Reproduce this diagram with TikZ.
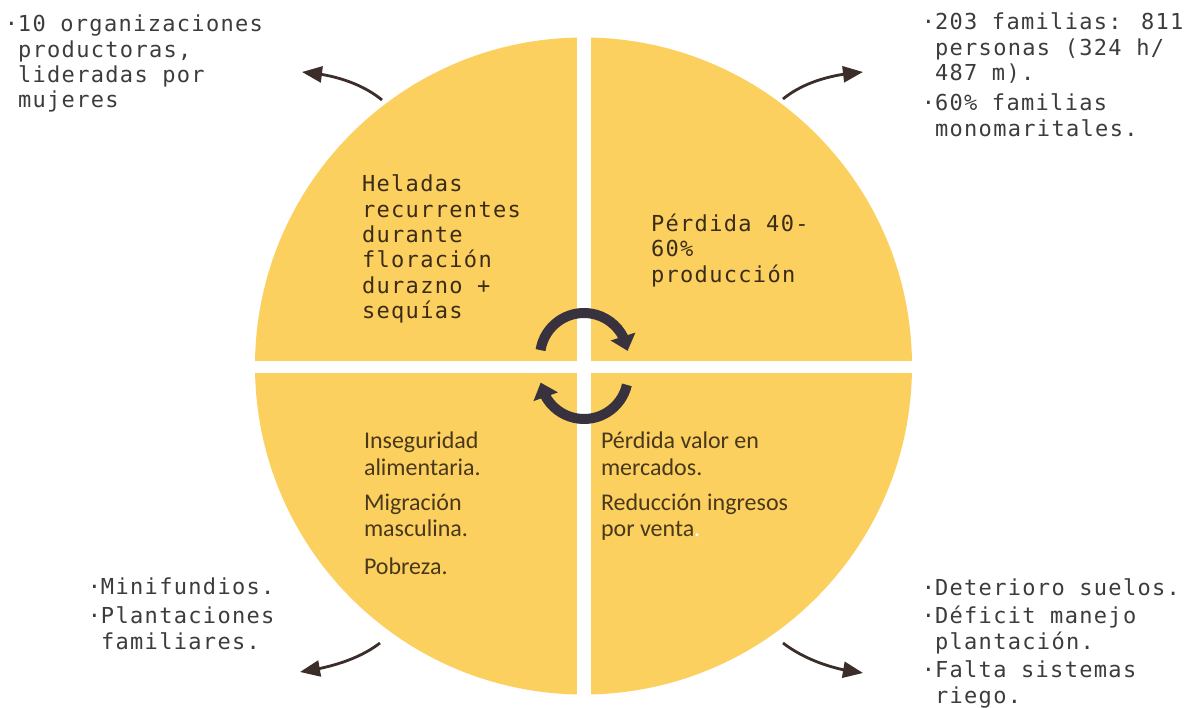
\documentclass[tikz,border=0pt]{standalone}
\usepackage{fontspec}
\newfontfamily\monof[LetterSpace=6.0]{DejaVu Sans Mono}
\newfontfamily\calf{Carlito}
\usetikzlibrary{arrows.meta,bending}
\definecolor{qyellow}{RGB}{252,208,94}
\definecolor{arrowdark}{RGB}{59,45,41}
\definecolor{cycledark}{RGB}{56,50,62}
\definecolor{outtext}{RGB}{60,60,60}
\definecolor{intext}{RGB}{58,44,24}
\definecolor{lowtext}{RGB}{72,56,28}
\newcommand{\bul}{\llap{·}}
\begin{document}
\begin{tikzpicture}[x=1pt,y=1pt,
  outtxt/.style={anchor=base west, inner sep=0, outer sep=0, text=outtext, font=\monof\fontsize{22}{25.3}\selectfont},
  outtxtlow/.style={outtxt, font=\monof\fontsize{22}{26}\selectfont},
  quadtxt/.style={anchor=base west, inner sep=0, outer sep=0, text=intext, font=\monof\fontsize{22}{25.3}\selectfont},
  lowtxt/.style={anchor=base west, inner sep=0, outer sep=0, text=lowtext, font=\calf\fontsize{24}{26.5}\selectfont},
  outarrow/.style={draw=arrowdark, line width=2.8pt, -{Triangle[length=20pt,width=16pt]}},
  cyclearrow/.style={draw=cycledark, line width=10pt, -{Triangle[length=15pt,width=25pt,flex]}}
]
\useasboundingbox (0,0) rectangle (1197,708);
% circle and white cross
\fill[qyellow] (583.5,342) circle[radius=328.5];
\fill[white] (577,10) rectangle (591,698);
\fill[white] (250,335) rectangle (918,347);
% cycle arrows
\coordinate (ctop) at (584,351);
\coordinate (cbot) at (584,333);
\draw[cyclearrow] ([shift={(171:44)}]ctop) arc[start angle=171,end angle=8,radius=44];
\draw[cyclearrow] ([shift={(-13:44)}]cbot) arc[start angle=-13,end angle=-170,radius=44];
% quadrant texts
\node[quadtxt] (q1) at (362,516) {\begin{tabular}[t]{@{}l@{}}Heladas\\ recurrentes\\ durante\\ floración\\ durazno +\\ sequías\end{tabular}};
\node[quadtxt] (q2) at (651,476.5) {\begin{tabular}[t]{@{}l@{}}Pérdida 40-\\ 60\%\\ producción\end{tabular}};
\node[lowtxt] (q3) at (364,259) {\begin{tabular}[t]{@{}l@{}}Inseguridad\\ alimentaria.\\[8.5pt] Migración\\ masculina.\\[11pt] Pobreza.\end{tabular}};
\node[lowtxt] (q4) at (601,259) {\begin{tabular}[t]{@{}l@{}}Pérdida valor en\\ mercados.\\[8.5pt] Reducción ingresos\\ por venta{\color{white}.}\end{tabular}};
% outer texts
\node[outtxt] (o1) at (18,676) {\begin{tabular}[t]{@{}l@{}}\bul 10 organizaciones\\ productoras,\\ lideradas por\\ mujeres\end{tabular}};
\node[outtxt] (o2) at (935,678) {\begin{tabular}[t]{@{}l@{}}\bul 203 familias: 811\\ personas (324 h/\\ 487 m).\\[5pt] \bul 60\% familias\\ monomaritales.\end{tabular}};
\node[outtxtlow] (o3) at (101,113) {\begin{tabular}[t]{@{}l@{}}\bul Minifundios.\\[3pt] \bul Plantaciones\\ familiares.\end{tabular}};
\node[outtxtlow] (o4) at (935,112) {\begin{tabular}[t]{@{}l@{}}\bul Deterioro suelos.\\[2pt] \bul Déficit manejo\\ plantación.\\[2pt] \bul Falta sistemas\\ riego.\end{tabular}};
% outer arrows
\coordinate (a1s) at (382,608); \coordinate (a1e) at (302,636);
\coordinate (a2s) at (783,609); \coordinate (a2e) at (863,636);
\coordinate (a3s) at (380,65);  \coordinate (a3e) at (300,36);
\coordinate (a4s) at (783,65);  \coordinate (a4e) at (863,35);
\draw[outarrow] (a1s) .. controls (360,626) and (330,634) .. (a1e);
\draw[outarrow] (a2s) .. controls (805,627) and (835,634) .. (a2e);
\draw[outarrow] (a3s) .. controls (358,48) and (328,40) .. (a3e);
\draw[outarrow] (a4s) .. controls (805,48) and (835,38) .. (a4e);
\end{tikzpicture}
\end{document}
